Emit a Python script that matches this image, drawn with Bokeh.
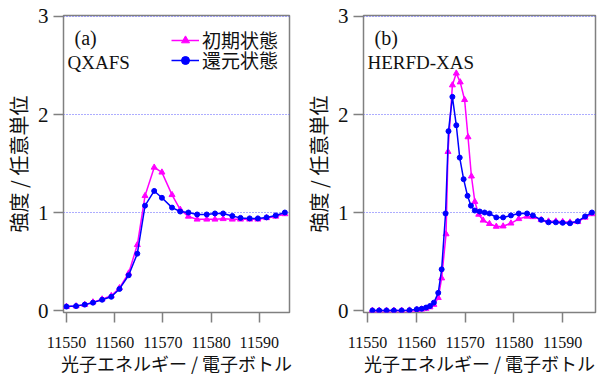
from bokeh.plotting import figure
from bokeh.layouts import row
from bokeh.models import FixedTicker, Label, Legend, LegendItem, Range1d
from bokeh.embed import file_html
from bokeh.resources import INLINE

# ---------------- data ----------------
x_ticks = [11550, 11560, 11570, 11580, 11590]
y_ticks = [0, 1, 2, 3]

a_x = [11550.0, 11552.0, 11553.8, 11555.5, 11557.4, 11559.3, 11561.0, 11562.9, 11564.7,
       11566.3, 11568.2, 11569.8, 11571.9, 11573.6, 11575.3, 11577.1, 11579.1, 11580.8,
       11582.5, 11584.4, 11586.1, 11588.0, 11589.7, 11591.5, 11593.4, 11595.3]
a_init_y = [0.04, 0.045, 0.06, 0.085, 0.115, 0.15, 0.23, 0.38, 0.67,
            1.17, 1.46, 1.41, 1.18, 1.03, 0.96, 0.93, 0.93, 0.93,
            0.935, 0.93, 0.93, 0.93, 0.93, 0.945, 0.96, 0.985]
a_red_y = [0.04, 0.045, 0.06, 0.08, 0.11, 0.14, 0.22, 0.36, 0.58,
           1.07, 1.22, 1.15, 1.05, 1.01, 1.00, 0.98, 0.98, 0.99,
           0.99, 0.965, 0.945, 0.94, 0.94, 0.95, 0.97, 1.00]

b_red_x = [11551.0, 11552.4, 11553.9, 11555.4, 11557.0, 11558.6, 11560.1, 11561.1, 11562.0,
           11562.8, 11563.6, 11564.5, 11565.2, 11566.0, 11566.6, 11567.4, 11568.2, 11568.9,
           11569.7, 11570.5, 11571.2, 11572.0, 11573.0, 11574.0, 11575.0, 11576.4, 11577.8,
           11579.4, 11581.0, 11582.7, 11583.9, 11585.6, 11587.1, 11588.6, 11590.0, 11591.5,
           11593.1, 11594.6, 11596.0]
b_red_y = [0.0, 0.0, 0.0, 0.0, 0.0, 0.003, 0.013, 0.018, 0.03,
           0.045, 0.08, 0.18, 0.42, 0.99, 1.83, 2.18, 1.89, 1.56,
           1.34, 1.17, 1.07, 1.02, 1.01, 1.00, 0.99, 0.95, 0.95,
           0.97, 0.99, 0.99, 0.97, 0.925, 0.90, 0.90, 0.895, 0.89,
           0.91, 0.96, 1.00]

b_init_x = [11551.0, 11552.4, 11553.9, 11555.4, 11557.0, 11558.6, 11560.1, 11561.1, 11562.0,
            11562.8, 11563.6, 11564.5, 11565.2, 11566.1, 11566.5, 11567.4, 11568.2, 11569.0,
            11569.9, 11570.6, 11571.3, 11572.0, 11572.8, 11573.7, 11575.0, 11576.4, 11577.8,
            11579.4, 11581.0, 11582.7, 11583.9, 11585.6, 11587.1, 11588.6, 11590.0, 11591.5,
            11593.1, 11594.6, 11596.0]
b_init_y = [0.0, 0.0, 0.0, 0.0, 0.0, 0.002, 0.008, 0.012, 0.02,
            0.035, 0.06, 0.13, 0.33, 0.78, 1.62, 2.30, 2.42, 2.33,
            2.15, 1.77, 1.37, 1.11, 0.98, 0.92, 0.885, 0.857, 0.86,
            0.89, 0.935, 0.96, 0.955, 0.925, 0.91, 0.91, 0.905, 0.90,
            0.905, 0.95, 0.985]

label_init = "初期状態"
label_red = "還元状態"
x_label = "光子エネルギー / 電子ボトル"
y_label = "強度 / 任意単位"

# ---------------- style ----------------
SERIF = "Liberation Serif"
CJK = "Noto Sans CJK JP"
MAG = "#ff00ff"
BLU = "#0000ff"
GRAY = "#808080"
INK = "#111111"


def make_panel(width, bl, br, xr, tag, name):
    p = figure(width=width, height=378, x_range=Range1d(*xr), y_range=Range1d(-0.0204, 3.0102),
               output_backend="svg", toolbar_location=None,
               min_border_left=bl, min_border_right=br, min_border_top=15, min_border_bottom=66)
    p.outline_line_color = GRAY
    p.outline_line_width = 1.5
    p.xgrid.visible = False
    p.ygrid.ticker = FixedTicker(ticks=[1, 2, 3])
    p.ygrid.grid_line_color = "#5a5aff"
    p.ygrid.grid_line_dash = "1 2"
    p.ygrid.grid_line_width = 1

    xa = p.xaxis[0]
    xa.ticker = FixedTicker(ticks=x_ticks)
    xa.axis_line_color = None
    xa.major_tick_line_color = GRAY
    xa.major_tick_line_width = 1.5
    xa.major_tick_in = 0
    xa.major_tick_out = 10
    xa.minor_tick_line_color = None
    xa.major_label_text_font = SERIF
    xa.major_label_text_font_size = "16px"
    xa.major_label_text_color = INK
    xa.major_label_standoff = 14
    xa.axis_label = x_label
    xa.axis_label_text_font = CJK
    xa.axis_label_text_font_size = "18px"
    xa.axis_label_text_font_style = "normal"
    xa.axis_label_text_color = INK
    xa.axis_label_standoff = -1

    ya = p.yaxis[0]
    ya.ticker = FixedTicker(ticks=y_ticks)
    ya.axis_line_color = None
    ya.major_tick_line_color = GRAY
    ya.major_tick_line_width = 1.5
    ya.major_tick_in = 0
    ya.major_tick_out = 10
    ya.minor_tick_line_color = None
    ya.major_label_text_font = SERIF
    ya.major_label_text_font_size = "21px"
    ya.major_label_text_color = INK
    ya.major_label_standoff = 5
    ya.axis_label = y_label
    ya.axis_label_text_font = CJK
    ya.axis_label_text_font_size = "20px"
    ya.axis_label_text_font_style = "normal"
    ya.axis_label_text_color = INK
    ya.axis_label_standoff = 2

    p.add_layout(Label(x=11, y=275, x_units="screen", y_units="screen", text=tag,
                       text_font=SERIF, text_font_size="20px", text_baseline="middle",
                       text_color=INK))
    p.add_layout(Label(x=4, y=250, x_units="screen", y_units="screen", text=name,
                       text_font=SERIF, text_font_size="19px", text_baseline="middle",
                       text_color=INK))
    return p


pa = make_panel(300, 57, 11, (11549.39, 11596.26), "(a)", "QXAFS")
pb = make_panel(298, 62, 3, (11549.18, 11596.73), "(b)", "HERFD-XAS")

la1 = pa.line(a_x, a_init_y, line_color=MAG, line_width=1.5)
pa.scatter(a_x, a_init_y, marker="triangle", size=6, color=MAG)
la2 = pa.line(a_x, a_red_y, line_color=BLU, line_width=1.5)
pa.scatter(a_x, a_red_y, marker="circle", size=5, color=BLU)

# hidden renderers that only supply the larger legend markers
ka1 = pa.scatter(a_x, a_init_y, marker="triangle", size=10, color=MAG, visible=False)
ka2 = pa.scatter(a_x, a_red_y, marker="circle", size=9, color=BLU, visible=False)

pb.line(b_init_x, b_init_y, line_color=MAG, line_width=1.5)
pb.scatter(b_init_x, b_init_y, marker="triangle", size=6, color=MAG)
pb.line(b_red_x, b_red_y, line_color=BLU, line_width=1.5)
pb.scatter(b_red_x, b_red_y, marker="circle", size=5, color=BLU)


def legend_at(label, rends, loc):
    return Legend(items=[LegendItem(label=label, renderers=rends)],
                  location=loc, padding=0, margin=0, spacing=0,
                  glyph_width=28, glyph_height=20, label_height=20, label_standoff=3,
                  label_text_font=CJK, label_text_font_size="19px", label_text_color=INK,
                  inactive_fill_alpha=0, border_line_color=None, background_fill_alpha=0)


pa.add_layout(legend_at(label_init, [la1, ka1], (108, 259)))
pa.add_layout(legend_at(label_red, [la2, ka2], (108, 239)))

layout = row(pa, pb, spacing=0)
open("out.html", "w").write(file_html(layout, INLINE))
